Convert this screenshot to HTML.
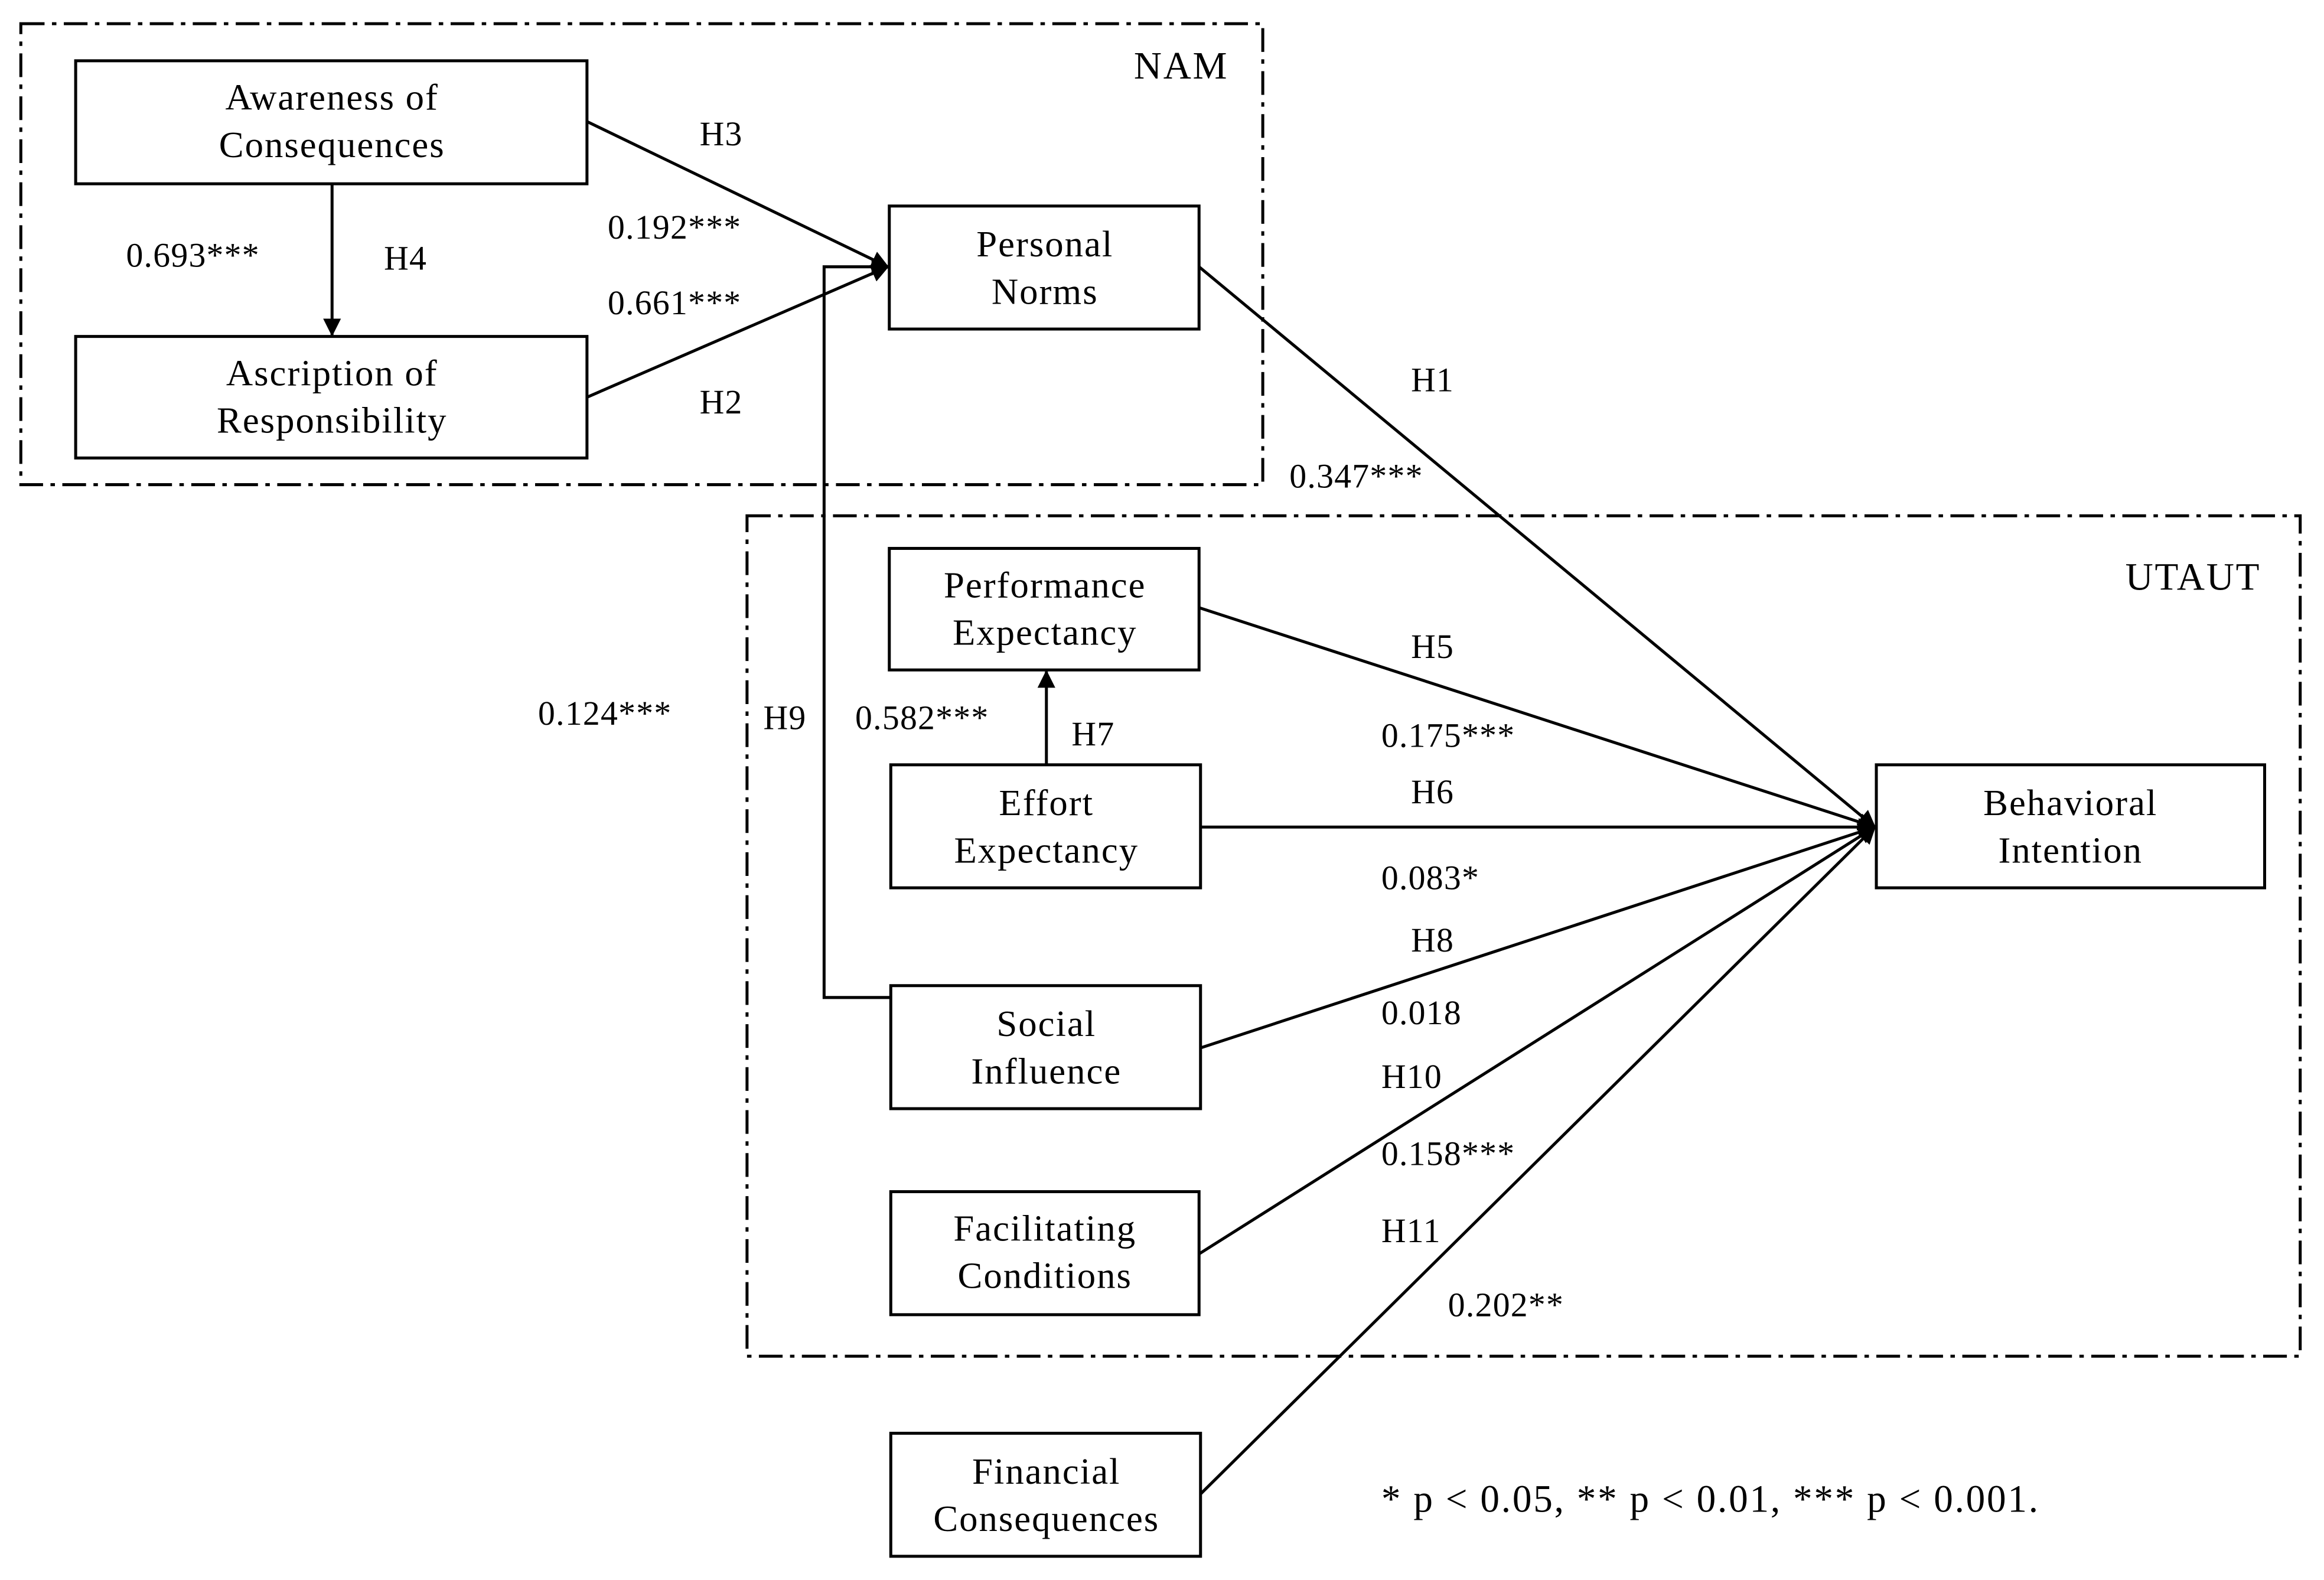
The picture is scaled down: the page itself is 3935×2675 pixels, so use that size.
<!DOCTYPE html>
<html><head><meta charset="utf-8"><style>
html,body{margin:0;padding:0;background:#fff;}
svg{display:block;}
text{font-family:"Liberation Serif",serif;fill:#000;}
</style></head><body>
<svg width="3935" height="2675" viewBox="0 0 1568 1066" xmlns="http://www.w3.org/2000/svg">
<defs>
<marker id="a" markerWidth="12" markerHeight="12" refX="11" refY="6" orient="auto" markerUnits="userSpaceOnUse">
<path d="M0,0 L12,6 L0,12 z" fill="#000"/></marker>
</defs>
<g fill="none" stroke="#000" stroke-width="2" stroke-dasharray="16,5,3,5">
<rect x="14" y="16" width="838" height="311"/>
<rect x="504" y="348" width="1048" height="567"/>
</g>
<g fill="#fff" stroke="#000" stroke-width="2">
<rect x="51" y="41" width="345" height="83"/>
<rect x="51" y="227" width="345" height="82"/>
<rect x="600" y="139" width="209" height="83"/>
<rect x="600" y="370" width="209" height="82"/>
<rect x="601" y="516" width="209" height="83"/>
<rect x="601" y="665" width="209" height="83"/>
<rect x="601" y="804" width="208" height="83"/>
<rect x="601" y="967" width="209" height="83"/>
<rect x="1266" y="516" width="262" height="83"/>
</g>
<g stroke="#000" stroke-width="2" fill="none" marker-end="url(#a)">
<line x1="396" y1="82" x2="599" y2="180"/>
<line x1="396" y1="268" x2="599" y2="180"/>
<line x1="224" y1="124" x2="224" y2="226"/>
<polyline points="601,673 556,673 556,180 599,180"/>
<line x1="706" y1="516" x2="706" y2="453"/>
<line x1="809" y1="180" x2="1265" y2="558"/>
<line x1="809" y1="410" x2="1265" y2="558"/>
<line x1="810" y1="558" x2="1265" y2="558"/>
<line x1="810" y1="707" x2="1265" y2="558"/>
<line x1="809" y1="846" x2="1265" y2="558"/>
<line x1="810" y1="1008" x2="1265" y2="558"/>
</g>
<g font-size="25" letter-spacing="0.8" text-anchor="middle">
<text x="224" y="74">Awareness of</text><text x="224" y="106">Consequences</text>
<text x="224" y="260">Ascription of</text><text x="224" y="292">Responsibility</text>
<text x="705" y="173">Personal</text><text x="705" y="205">Norms</text>
<text x="705" y="403">Performance</text><text x="705" y="435">Expectancy</text>
<text x="706" y="550">Effort</text><text x="706" y="582">Expectancy</text>
<text x="706" y="699">Social</text><text x="706" y="731">Influence</text>
<text x="705" y="837">Facilitating</text><text x="705" y="869">Conditions</text>
<text x="706" y="1001">Financial</text><text x="706" y="1033">Consequences</text>
<text x="1397" y="550">Behavioral</text><text x="1397" y="582">Intention</text>
</g>
<g font-size="26" letter-spacing="1.1">
<text x="765" y="53">NAM</text>
<text x="1434" y="398">UTAUT</text>
<text x="932" y="1020">* p &lt; 0.05, ** p &lt; 0.01, *** p &lt; 0.001.</text>
</g>
<g font-size="23" letter-spacing="0.5">
<text x="472" y="98">H3</text>
<text x="410" y="161">0.192***</text>
<text x="85" y="180">0.693***</text>
<text x="259" y="182">H4</text>
<text x="410" y="212">0.661***</text>
<text x="472" y="279">H2</text>
<text x="952" y="264">H1</text>
<text x="870" y="329">0.347***</text>
<text x="363" y="489">0.124***</text>
<text x="515" y="492">H9</text>
<text x="577" y="492">0.582***</text>
<text x="723" y="503">H7</text>
<text x="952" y="444">H5</text>
<text x="932" y="504">0.175***</text>
<text x="952" y="542">H6</text>
<text x="932" y="600">0.083*</text>
<text x="952" y="642">H8</text>
<text x="932" y="691">0.018</text>
<text x="932" y="734">H10</text>
<text x="932" y="786">0.158***</text>
<text x="932" y="838">H11</text>
<text x="977" y="888">0.202**</text>
</g>
</svg>
</body></html>
